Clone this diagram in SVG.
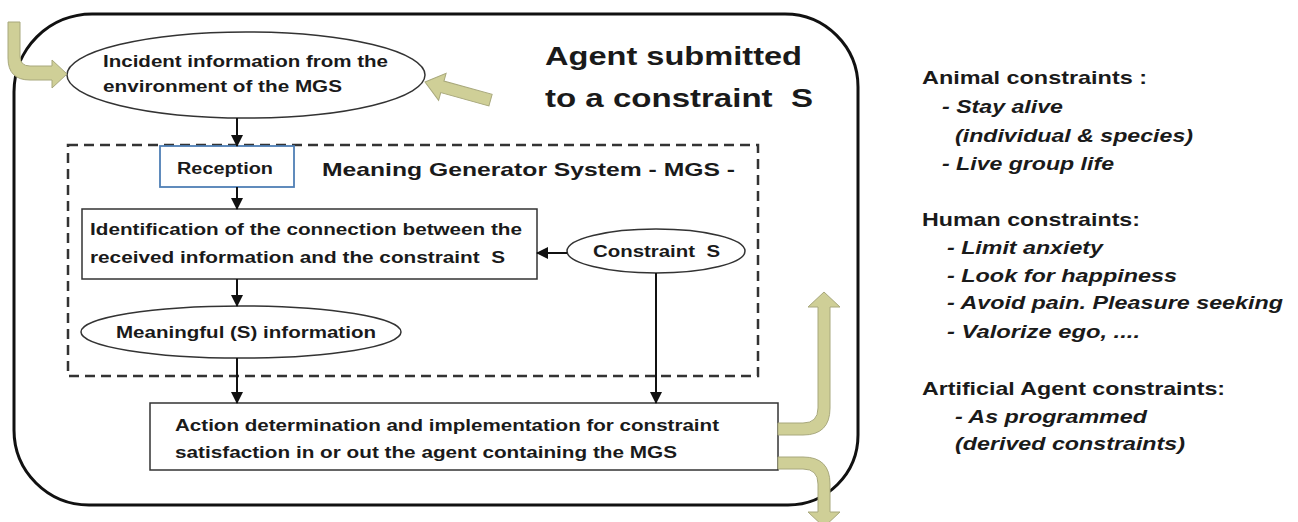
<svg xmlns="http://www.w3.org/2000/svg" width="1298" height="522" viewBox="0 0 1298 522">
<defs>
<style>
.t{font-family:"Liberation Sans",Arial,sans-serif;font-weight:bold;fill:#1a1a1a;white-space:pre}
.n{font-size:16px}
.it{font-style:italic}
.node{fill:#fff;stroke:#333;stroke-width:1.5}
.gold{fill:#cfcf97;stroke:#a8a87c;stroke-width:1}
.con{stroke:#111;stroke-width:2;fill:none;marker-end:url(#ah)}
</style>
<marker id="ah" markerUnits="userSpaceOnUse" markerWidth="12" markerHeight="12" refX="11" refY="6" orient="auto">
<path d="M0,0 L12,6 L0,12 Z" fill="#111"/>
</marker>
</defs>
<rect width="1298" height="522" fill="#fff"/>
<g id="agent">
<path d="M 92 14 L 785 14 A 73 73 0 0 1 858 87 L 858 435 A 70 70 0 0 1 788 505 L 89 505 A 75 75 0 0 1 14 430 L 14 92 A 78 78 0 0 1 92 14 Z" fill="none" stroke="#111" stroke-width="3"/>
<text class="t" x="545" y="65" font-size="25" textLength="257" lengthAdjust="spacingAndGlyphs">Agent submitted</text>
<text class="t" x="545" y="107" font-size="25" textLength="268" lengthAdjust="spacingAndGlyphs">to a constraint  S</text>
</g>
<g id="mgs">
<rect x="68" y="145" width="690" height="231" fill="none" stroke="#333" stroke-width="2.5" stroke-dasharray="10,6"/>
<text class="t" x="322" y="176" font-size="19" textLength="413" lengthAdjust="spacingAndGlyphs">Meaning Generator System - MGS -</text>
</g>
<g id="incident">
<ellipse class="node" cx="246" cy="75" rx="179" ry="43"/>
<text class="t n" x="103" y="67" textLength="285" lengthAdjust="spacingAndGlyphs">Incident information from the</text>
<text class="t n" x="103" y="92" textLength="239" lengthAdjust="spacingAndGlyphs">environment of the MGS</text>
</g>
<g id="reception">
<rect x="160" y="146" width="134" height="41" fill="#fff" stroke="#4f7fb5" stroke-width="1.8"/>
<text class="t n" x="177" y="174" textLength="96" lengthAdjust="spacingAndGlyphs">Reception</text>
</g>
<g id="identification">
<rect class="node" x="82" y="209" width="455" height="70"/>
<text class="t n" x="90" y="235" textLength="432" lengthAdjust="spacingAndGlyphs">Identification of the connection between the</text>
<text class="t n" x="90" y="263" textLength="415" lengthAdjust="spacingAndGlyphs">received information and the constraint  S</text>
</g>
<g id="constraint">
<ellipse class="node" cx="656" cy="251" rx="89" ry="22"/>
<text class="t n" x="593" y="257" textLength="127" lengthAdjust="spacingAndGlyphs">Constraint  S</text>
</g>
<g id="meaningful">
<ellipse class="node" cx="241" cy="332" rx="160" ry="26"/>
<text class="t n" x="116" y="338" textLength="260" lengthAdjust="spacingAndGlyphs">Meaningful (S) information</text>
</g>
<g id="action">
<rect class="node" x="150" y="403" width="628" height="67"/>
<text class="t n" x="175" y="431" textLength="544" lengthAdjust="spacingAndGlyphs">Action determination and implementation for constraint</text>
<text class="t n" x="175" y="458" textLength="502" lengthAdjust="spacingAndGlyphs">satisfaction in or out the agent containing the MGS</text>
</g>
<g id="connectors">
<line class="con" x1="237" y1="118" x2="237" y2="146"/>
<line class="con" x1="237" y1="187" x2="237" y2="209"/>
<line class="con" x1="567" y1="253" x2="537" y2="253"/>
<line class="con" x1="237" y1="279" x2="237" y2="306"/>
<line class="con" x1="237" y1="358" x2="237" y2="403"/>
<line class="con" x1="656" y1="273" x2="656" y2="403"/>
</g>
<g id="gold-arrows">
<path class="gold" d="M 8 22 L 20 22 L 20 56 Q 20 66 30 66 L 52 66 L 52 60 L 67 74 L 52 88 L 52 80 L 30 80 Q 8 80 8 58 Z"/>
<polygon class="gold" transform="translate(425,82) rotate(15.5)" points="0,0 18,-14 18,-6 68,-6 68,6 18,6 18,14"/>
<path class="gold" d="M 778 423 L 803 423 Q 818 423 818 408 L 818 307 L 808 307 L 824 292 L 840 307 L 830 307 L 830 408 Q 830 435 803 435 L 778 435 Z"/>
<path class="gold" d="M 778 457 L 803 457 Q 830 457 830 484 L 830 512 L 840 512 L 824 527 L 808 512 L 818 512 L 818 484 Q 818 469 803 469 L 778 469 Z"/>
</g>
<g id="legend">
<text class="t" font-size="18.5" x="922" y="84" textLength="225" lengthAdjust="spacingAndGlyphs">Animal constraints :</text>
<text class="t it" font-size="18.5" x="942" y="113" textLength="121" lengthAdjust="spacingAndGlyphs">- Stay alive</text>
<text class="t it" font-size="18.5" x="955" y="142" textLength="238" lengthAdjust="spacingAndGlyphs">(individual &amp; species)</text>
<text class="t it" font-size="18.5" x="942" y="170" textLength="172" lengthAdjust="spacingAndGlyphs">- Live group life</text>
<text class="t" font-size="18.5" x="922" y="226" textLength="218" lengthAdjust="spacingAndGlyphs">Human constraints:</text>
<text class="t it" font-size="18.5" x="947" y="254" textLength="156" lengthAdjust="spacingAndGlyphs">- Limit anxiety</text>
<text class="t it" font-size="18.5" x="947" y="282" textLength="230" lengthAdjust="spacingAndGlyphs">- Look for happiness</text>
<text class="t it" font-size="18.5" x="947" y="309" textLength="336" lengthAdjust="spacingAndGlyphs">- Avoid pain. Pleasure seeking</text>
<text class="t it" font-size="18.5" x="947" y="338" textLength="193" lengthAdjust="spacingAndGlyphs">- Valorize ego, ....</text>
<text class="t" font-size="18.5" x="922" y="395" textLength="303" lengthAdjust="spacingAndGlyphs">Artificial Agent constraints:</text>
<text class="t it" font-size="18.5" x="955" y="423" textLength="192" lengthAdjust="spacingAndGlyphs">- As programmed</text>
<text class="t it" font-size="18.5" x="955" y="450" textLength="230" lengthAdjust="spacingAndGlyphs">(derived constraints)</text>
</g>
</svg>
